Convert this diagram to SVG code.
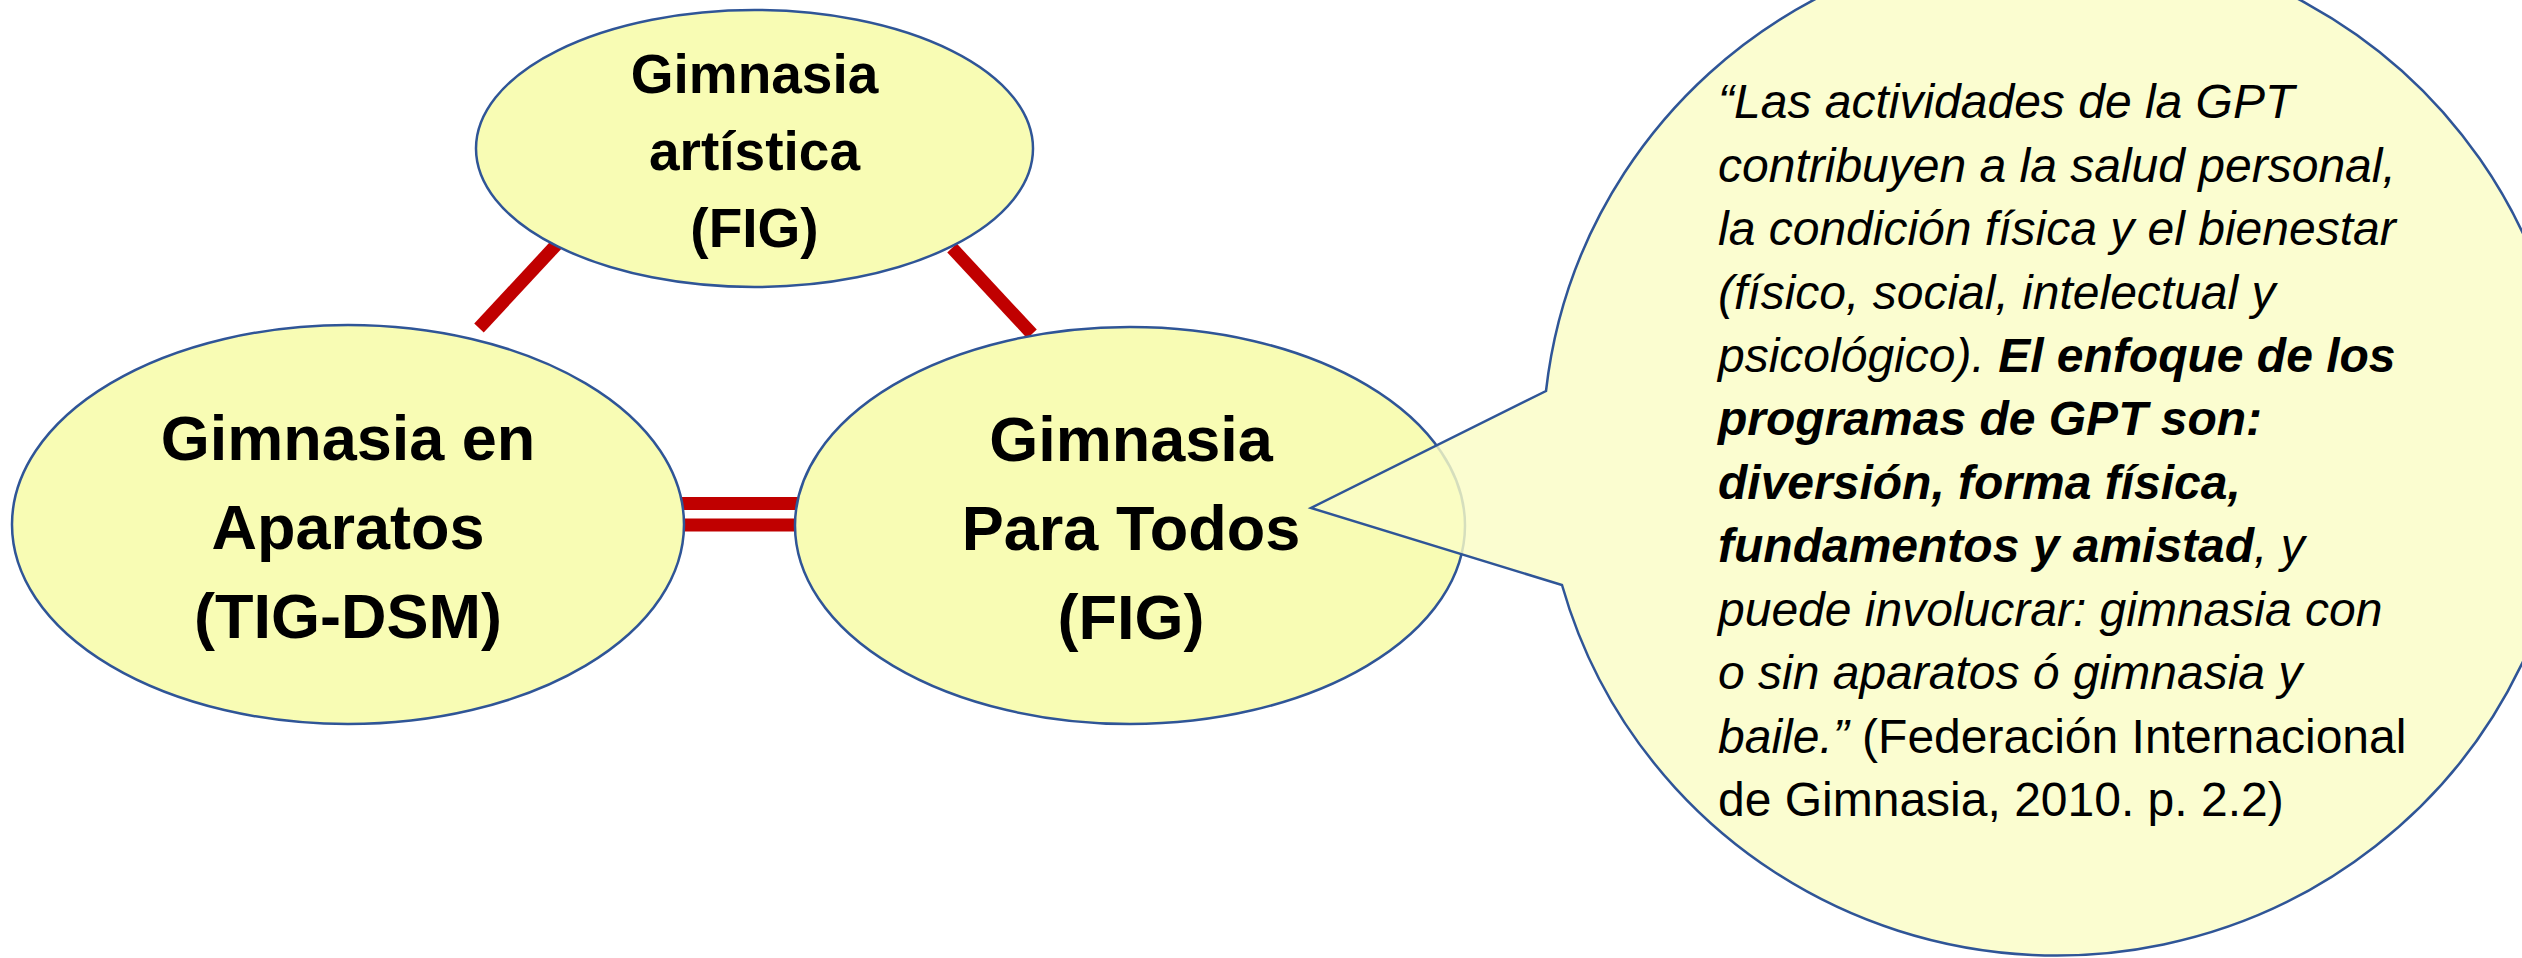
<svg xmlns="http://www.w3.org/2000/svg" width="2522" height="958" viewBox="0 0 2522 958">
<style>
.node{fill:#F8FCB4;stroke:#2F5597;stroke-width:2.5}
.callout{fill:#FAFCC6;fill-opacity:0.82;stroke:#2F5597;stroke-width:2.5;stroke-linejoin:miter}
.lbl{font-family:"Liberation Sans",Arial,sans-serif;font-weight:bold;fill:#000;text-anchor:middle}
.conn{stroke:#C00000;stroke-width:13;stroke-linecap:butt;fill:none}
.q{font-family:"Liberation Sans",Arial,sans-serif;font-size:48px;font-style:italic;fill:#000}
.b{font-weight:bold}
.n{font-style:normal}
</style>
<rect width="2522" height="958" fill="#FFFFFF"/>
<g id="connectors">
<line class="conn" x1="557" y1="244" x2="479" y2="328"/>
<line class="conn" x1="952" y1="248" x2="1032" y2="334"/>
<line class="conn" x1="678" y1="503.5" x2="807" y2="503.5"/>
<line class="conn" x1="683" y1="525" x2="796" y2="525"/>
</g>
<g id="node-artistica">
<ellipse class="node" cx="754.5" cy="148.5" rx="278.5" ry="138.5"/>
<text class="lbl" font-size="55" x="754.5" y="93">Gimnasia</text>
<text class="lbl" font-size="55" x="754.5" y="170">artística</text>
<text class="lbl" font-size="55" x="754.5" y="247">(FIG)</text>
</g>
<g id="node-aparatos">
<ellipse class="node" cx="348" cy="524.5" rx="336" ry="199.5"/>
<text class="lbl" font-size="63" x="348" y="460">Gimnasia en</text>
<text class="lbl" font-size="63" x="348" y="549">Aparatos</text>
<text class="lbl" font-size="63" x="348" y="638">(TIG-DSM)</text>
</g>
<g id="node-gpt">
<ellipse class="node" cx="1130" cy="525.5" rx="335" ry="198.5"/>
<text class="lbl" font-size="63" x="1131" y="461">Gimnasia</text>
<text class="lbl" font-size="63" x="1131" y="550">Para Todos</text>
<text class="lbl" font-size="63" x="1131" y="639">(FIG)</text>
</g>
<g id="callout">
<path class="callout" d="M 1546 391 A 514 508 0 1 1 1562 585 L 1311 508 Z"/>
<text class="q">
<tspan x="1718" y="118">“Las actividades de la GPT</tspan>
<tspan x="1718" y="182">contribuyen a la salud personal,</tspan>
<tspan x="1718" y="245">la condición física y el bienestar</tspan>
<tspan x="1718" y="309">(físico, social, intelectual y</tspan>
<tspan x="1718" y="372">psicológico). <tspan class="b">El enfoque de los</tspan></tspan>
<tspan x="1718" y="435" class="b">programas de GPT son:</tspan>
<tspan x="1718" y="499" class="b">diversión, forma física,</tspan>
<tspan x="1718" y="562"><tspan class="b">fundamentos y amistad</tspan>, y</tspan>
<tspan x="1718" y="626">puede involucrar: gimnasia con</tspan>
<tspan x="1718" y="689">o sin aparatos ó gimnasia y</tspan>
<tspan x="1718" y="753">baile.” <tspan class="n">(Federación Internacional</tspan></tspan>
<tspan x="1718" y="816" class="n">de Gimnasia, 2010. p. 2.2)</tspan>
</text>
</g>
</svg>
